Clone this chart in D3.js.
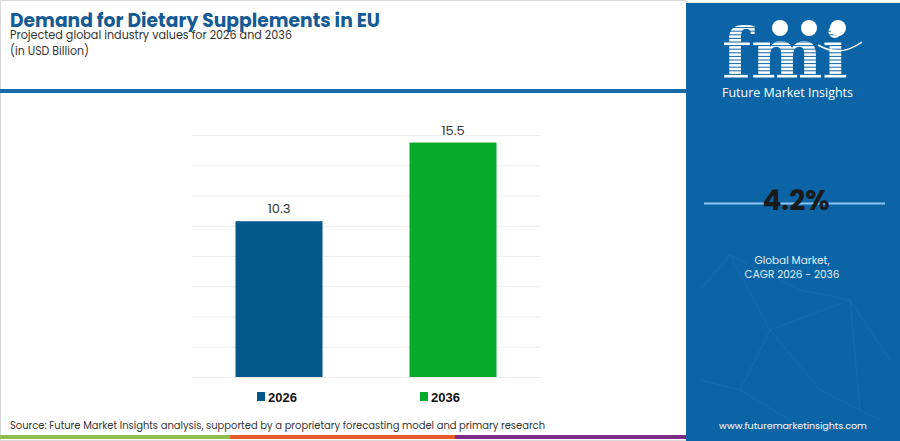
<!DOCTYPE html>
<html>
<head>
<meta charset="utf-8">
<script src="https://cdn.jsdelivr.net/npm/d3@7"></script>
<style>
  body { margin: 0; background: #fff; }
  svg { display: block; }
</style>
</head>
<body>
<script>
// chart values
var years = ["2026", "2036"];
var values = [10.3, 15.5];
var barColors = ["#03588c", "#06ab2b"];
var yTicks = [0, 2, 4, 6, 8, 10, 12, 14, 16];
var cagr = "4.2%";

window.onload = drawChart();

function drawChart(){

    var width = 900,
        height = 441;

    var svg = d3.select("body")
        .append("svg")
        .attr("width", width)
        .attr("height", height);

    //left panel frame
    svg.append("rect")
        .attr("x", 0.5).attr("y", 0.5)
        .attr("width", 686).attr("height", 440)
        .attr("fill", "#fff")
        .attr("stroke", "#d9d9d9");

    //title block
    svg.append("text")
        .attr("x", 10).attr("y", 27)
        .attr("font-family", "Poppins, Inter, 'Open Sans', sans-serif")
        .attr("font-weight", 700)
        .attr("font-size", 20)
        .attr("fill", "#145a94")
        .attr("textLength", 370)
        .attr("lengthAdjust", "spacingAndGlyphs")
        .text("Demand for Dietary Supplements in EU");

    svg.append("text")
        .attr("x", 10).attr("y", 39)
        .attr("font-family", "Poppins, 'Open Sans', sans-serif")
        .attr("font-size", 13)
        .attr("fill", "#333")
        .attr("textLength", 282)
        .attr("lengthAdjust", "spacingAndGlyphs")
        .text("Projected global industry values for 2026 and 2036");

    svg.append("text")
        .attr("x", 10).attr("y", 55)
        .attr("font-family", "Poppins, 'Open Sans', sans-serif")
        .attr("font-size", 13)
        .attr("fill", "#333")
        .attr("textLength", 79)
        .attr("lengthAdjust", "spacingAndGlyphs")
        .text("(in USD Billion)");

    svg.append("rect")
        .attr("x", 0).attr("y", 89)
        .attr("width", 686).attr("height", 4)
        .attr("fill", "#1b6aa8");

    //scales
    var x = d3.scaleBand()
        .domain(years)
        .range([192, 540])
        .paddingInner(0.5)
        .paddingOuter(0.25);

    var y = d3.scaleLinear()
        .domain([0, 16])
        .range([377, 135]);

    //gridlines
    svg.append("g")
        .attr("class", "grid")
        .attr("transform", "translate(192,0)")
        .call(d3.axisLeft(y).tickValues(yTicks).tickSize(-348).tickFormat(""))
        .call(function(g){
            g.select(".domain").remove();
            g.selectAll("line").attr("stroke", "#ececec").attr("stroke-width", 1);
        });

    //bars
    svg.selectAll(".bar")
        .data(values)
        .enter()
        .append("rect")
        .attr("class", "bar")
        .attr("x", function(d, i){ return x(years[i]); })
        .attr("y", function(d){ return y(d); })
        .attr("width", x.bandwidth())
        .attr("height", function(d){ return y(0) - y(d); })
        .attr("fill", function(d, i){ return barColors[i]; });

    //value labels
    svg.selectAll(".val")
        .data(values)
        .enter()
        .append("text")
        .attr("class", "val")
        .attr("x", function(d, i){ return x(years[i]) + x.bandwidth() / 2; })
        .attr("y", function(d){ return y(d) - 8; })
        .attr("text-anchor", "middle")
        .attr("font-family", "Poppins, 'Open Sans', sans-serif")
        .attr("font-size", 13)
        .attr("fill", "#333")
        .text(function(d){ return d.toFixed(1); });

    //legend
    var legendX = [257, 420];
    var legend = svg.selectAll(".legend")
        .data(years)
        .enter()
        .append("g")
        .attr("class", "legend")
        .attr("transform", function(d, i){ return "translate(" + legendX[i] + ",392)"; });

    legend.append("rect")
        .attr("width", 8).attr("height", 9)
        .attr("fill", function(d, i){ return barColors[i]; });

    legend.append("text")
        .attr("x", 11).attr("y", 9.5)
        .attr("font-family", "'Liberation Sans', Arial, sans-serif")
        .attr("font-weight", 700)
        .attr("font-size", 13)
        .attr("fill", "#111")
        .text(function(d){ return d; });

    //source note
    svg.append("text")
        .attr("x", 10).attr("y", 429)
        .attr("font-family", "Poppins, 'Open Sans', sans-serif")
        .attr("font-size", 11)
        .attr("fill", "#333")
        .attr("textLength", 535)
        .attr("lengthAdjust", "spacingAndGlyphs")
        .text("Source: Future Market Insights analysis, supported by a proprietary forecasting model and primary research");

    //bottom colour strip
    var strip = [["#8cc04a", 0, 230], ["#e8592b", 230, 455], ["#7c2b86", 455, 686]];
    svg.selectAll(".strip")
        .data(strip)
        .enter()
        .append("rect")
        .attr("x", function(d){ return d[1]; })
        .attr("y", 435)
        .attr("width", function(d){ return d[2] - d[1]; })
        .attr("height", 4)
        .attr("fill", function(d){ return d[0]; });

    //right panel
    var panel = svg.append("g");

    panel.append("rect")
        .attr("x", 686).attr("y", 3)
        .attr("width", 214).attr("height", 438)
        .attr("fill", "#0b64a6");

    //faint network pattern
    var net = [[700,290,730,255],[730,255,770,330],[770,330,740,390],[740,390,700,380],[770,330,850,300],
               [850,300,890,360],[850,300,860,410],[770,330,820,390],[820,390,880,420],[730,255,800,290],
               [800,290,850,300],[740,390,790,420]];
    panel.selectAll(".net")
        .data(net)
        .enter()
        .append("line")
        .attr("x1", function(d){ return d[0]; }).attr("y1", function(d){ return d[1]; })
        .attr("x2", function(d){ return d[2]; }).attr("y2", function(d){ return d[3]; })
        .attr("stroke", "#3d8ccb")
        .attr("stroke-opacity", 0.2)
        .attr("stroke-width", 1);

    //fmi logo
    panel.append("text")
        .attr("x", 722).attr("y", 78)
        .attr("font-family", "'DejaVu Serif', serif")
        .attr("font-weight", 700)
        .attr("font-size", 70)
        .attr("fill", "#fff")
        .attr("textLength", 126)
        .attr("lengthAdjust", "spacingAndGlyphs")
        .text("fmi");

    var stripes = d3.range(24, 80, 3.6);
    panel.selectAll(".stripe")
        .data(stripes)
        .enter()
        .append("line")
        .attr("x1", 718).attr("x2", 852)
        .attr("y1", function(d){ return d; }).attr("y2", function(d){ return d; })
        .attr("stroke", "#0b64a6")
        .attr("stroke-width", 1);

    //globe circles over the logo
    panel.selectAll(".globe")
        .data([780, 809, 838])
        .enter()
        .append("circle")
        .attr("cx", function(d){ return d; })
        .attr("cy", 28)
        .attr("r", 8)
        .attr("fill", "#fff");

    panel.append("path")
        .attr("d", "M818,45 Q840,58 862,42")
        .attr("fill", "none")
        .attr("stroke", "#fff")
        .attr("stroke-width", 1.5);

    panel.append("text")
        .attr("x", 722).attr("y", 97)
        .attr("font-family", "'Open Sans', sans-serif")
        .attr("font-size", 13)
        .attr("fill", "#fff")
        .attr("textLength", 131)
        .attr("lengthAdjust", "spacingAndGlyphs")
        .text("Future Market Insights");

    //cagr
    panel.append("line")
        .attr("x1", 704).attr("x2", 885)
        .attr("y1", 203.5).attr("y2", 203.5)
        .attr("stroke", "#8ec4ec")
        .attr("stroke-width", 2);

    panel.append("text")
        .attr("x", 796).attr("y", 210)
        .attr("text-anchor", "middle")
        .attr("font-family", "Poppins, Inter, sans-serif")
        .attr("font-weight", 700)
        .attr("font-size", 28)
        .attr("fill", "#1a1a1a")
        .text(cagr);

    panel.append("text")
        .attr("x", 792).attr("y", 263.5)
        .attr("text-anchor", "middle")
        .attr("font-family", "Poppins, 'Open Sans', sans-serif")
        .attr("font-size", 10.5)
        .attr("fill", "#e3eef8")
        .text("Global Market,");

    panel.append("text")
        .attr("x", 792).attr("y", 277.5)
        .attr("text-anchor", "middle")
        .attr("font-family", "Poppins, 'Open Sans', sans-serif")
        .attr("font-size", 10.5)
        .attr("fill", "#e3eef8")
        .text("CAGR 2026 - 2036");

    panel.append("text")
        .attr("x", 793).attr("y", 429)
        .attr("text-anchor", "middle")
        .attr("font-family", "Poppins, 'Open Sans', sans-serif")
        .attr("font-size", 9.5)
        .attr("fill", "#fff")
        .text("www.futuremarketinsights.com");

};
</script>
</body>
</html>
